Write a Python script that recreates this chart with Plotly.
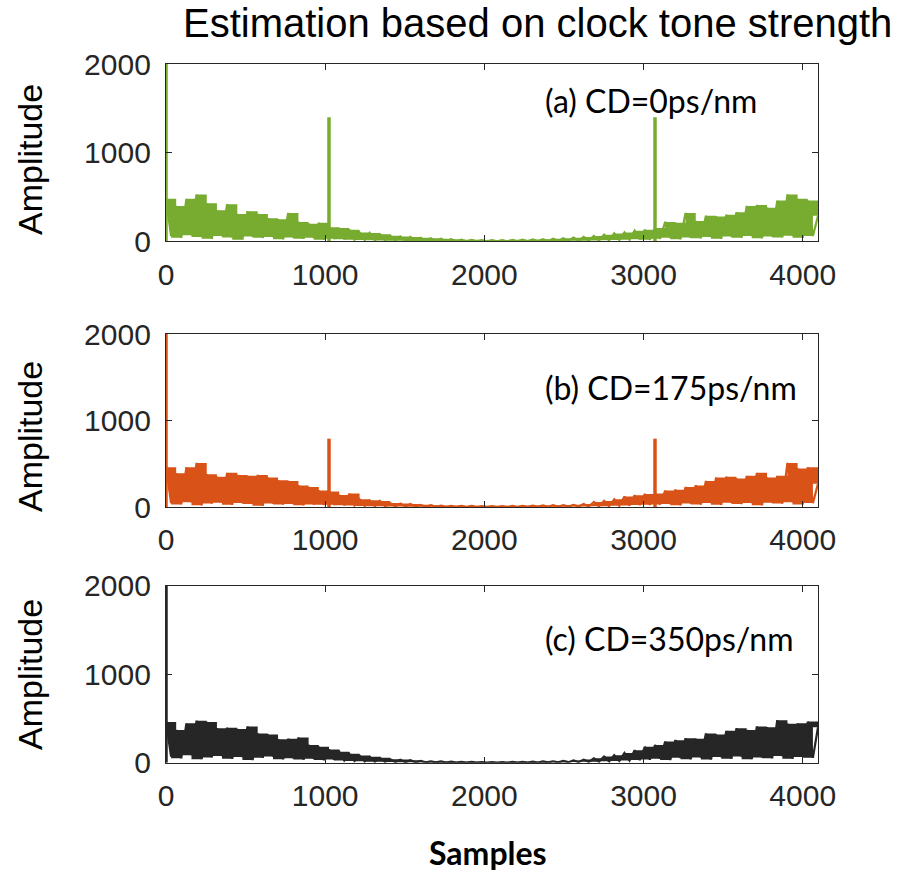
import plotly.graph_objects as go

# ---------------- data ----------------
# noise peaks at samples 0, 64, ..., 4096 and troughs at 32, 96, ..., 4064
peak_step = 64
peak_a = [480, 400, 480, 530, 430, 350, 420, 310, 340, 310, 260, 250, 320, 220, 200, 210,
          160, 150, 130, 100, 95, 80, 65, 55, 50, 40, 35, 30, 25, 20, 18, 15,
          15, 15, 18, 20, 22, 25, 30, 35, 42, 50, 60, 75, 90, 100, 120, 130,
          150, 220, 210, 320, 230, 290, 280, 300, 330, 400, 410, 380, 460, 530, 480, 460,
          290]
trough_a = [60, 40, 70, 50, 30, 60, 45, 20, 55, 40, 50, 25, 45, 30, 40, 20,
            30, 25, 20, 15, 12, 10, 8, 6, 5, 4, 3, 2, 2, 1, 1, 1,
            1, 1, 1, 2, 2, 3, 4, 5, 6, 8, 10, 12, 15, 20, 25, 20,
            30, 40, 25, 45, 35, 50, 30, 55, 40, 60, 35, 55, 45, 65, 40, 60]

peak_b = [460, 390, 460, 510, 380, 350, 395, 370, 360, 370, 340, 310, 300, 250, 230, 190,
          180, 140, 155, 90, 77, 70, 45, 40, 35, 25, 20, 15, 14, 12, 12, 10,
          10, 10, 12, 14, 16, 18, 20, 22, 25, 35, 58, 70, 90, 120, 135, 150,
          155, 190, 200, 230, 250, 300, 340, 350, 330, 360, 395, 340, 360, 510, 445, 460,
          270]
trough_b = [45, 30, 55, 20, 40, 50, 25, 45, 35, 15, 40, 30, 35, 20, 30, 25,
            25, 20, 18, 12, 10, 8, 6, 5, 4, 3, 2, 2, 1, 1, 1, 1,
            1, 1, 1, 1, 2, 2, 3, 4, 5, 6, 8, 10, 14, 18, 22, 25,
            30, 35, 20, 40, 30, 45, 25, 50, 35, 45, 20, 50, 40, 55, 30, 45]

peak_c = [460, 370, 445, 475, 460, 390, 395, 380, 410, 330, 320, 265, 270, 285, 200, 180,
          150, 125, 100, 80, 68, 55, 40, 35, 28, 20, 16, 14, 12, 10, 10, 8,
          8, 8, 10, 10, 12, 14, 16, 20, 25, 35, 50, 70, 85, 110, 140, 180,
          200, 240, 255, 275, 270, 330, 320, 360, 390, 370, 410, 400, 480, 440, 445, 465,
          400]
trough_c = [70, 50, 85, 40, 60, 75, 45, 65, 30, 55, 70, 40, 50, 35, 45, 30,
            35, 25, 20, 15, 12, 10, 8, 6, 5, 4, 3, 2, 2, 1, 1, 1,
            1, 1, 1, 2, 2, 3, 4, 6, 8, 10, 12, 16, 20, 25, 30, 35,
            45, 30, 55, 40, 60, 35, 65, 45, 70, 40, 60, 50, 75, 45, 65, 55]

# DC component and clock tones (sample position, amplitude)
tone_pos_a = [0, 1024, 3072]
tone_amp_a = [2000, 1400, 1400]
tone_pos_b = [0, 1024, 3072]
tone_amp_b = [2000, 790, 790]
tone_pos_c = [0]
tone_amp_c = [2000]

labels = ["(a) CD=0ps/nm", "(b) CD=175ps/nm", "(c) CD=350ps/nm"]
colors = ["#77AC30", "#D95319", "#262626"]
x_ticks = [0, 1000, 2000, 3000, 4000]
y_ticks = [0, 1000, 2000]
title = "Estimation based on clock tone strength"
x_title = "Samples"
y_title = "Amplitude"

# ---------------- layout geometry (page pixels) ----------------
W, H = 914, 873


def fx(px):
    return px / W


def fy(py):
    return 1 - py / H


x_dom = [fx(166), fx(818)]
y_doms = [[fy(241.4), fy(64)],
          [fy(507), fy(334)],
          [fy(762.7), fy(585.7)]]
label_y = [1583, 1387, 1398]
ylab_centers = [160, 437, 675]

fig = go.Figure()
panels = [(peak_a, trough_a, tone_pos_a, tone_amp_a),
          (peak_b, trough_b, tone_pos_b, tone_amp_b),
          (peak_c, trough_c, tone_pos_c, tone_amp_c)]

for i, (pk, tr, tpos, tamp) in enumerate(panels):
    xa = "x" if i == 0 else f"x{i + 1}"
    ya = "y" if i == 0 else f"y{i + 1}"
    col = colors[i]
    px = [k * peak_step for k in range(len(pk))]
    tx = [k * peak_step + peak_step // 2 for k in range(len(tr))]
    # filled band between troughs and peaks (blocky, like the noisy spectrum)
    fig.add_trace(go.Scatter(x=px + tx[::-1], y=pk + tr[::-1], fill="toself",
                             fillcolor=col, line=dict(width=0, shape="hv"), mode="lines",
                             xaxis=xa, yaxis=ya, showlegend=False, hoverinfo="skip"))
    # zig-zag noise line
    zx, zy = [], []
    for k in range(len(pk)):
        zx.append(px[k]); zy.append(pk[k])
        if k < len(tr):
            zx.append(tx[k]); zy.append(tr[k])
    fig.add_trace(go.Scatter(x=zx, y=zy, mode="lines", line=dict(color=col, width=2.2),
                             xaxis=xa, yaxis=ya, showlegend=False))
    # tones
    sx, sy = [], []
    for p, a in zip(tpos, tamp):
        sx += [p, p, None]; sy += [0, a, None]
    fig.add_trace(go.Scatter(x=sx, y=sy, mode="lines", line=dict(color=col, width=3.5),
                             xaxis=xa, yaxis=ya, showlegend=False))

axis_common = dict(showgrid=False, zeroline=False, showline=True, linecolor="#262626",
                   linewidth=1.3, mirror="ticks", ticks="inside", ticklen=6,
                   tickcolor="#262626", tickwidth=1,
                   tickfont=dict(family="Liberation Sans, Arial", size=30, color="#262626"))

layout = dict(width=W, height=H, margin=dict(l=0, r=0, t=0, b=0, autoexpand=False),
              plot_bgcolor="white", paper_bgcolor="white", showlegend=False)
annotations = []
for i in range(3):
    sfx = "" if i == 0 else str(i + 1)
    layout["xaxis" + sfx] = dict(axis_common, domain=x_dom, range=[0, 4096],
                                 tickvals=x_ticks, anchor="y" + sfx, ticklabelstandoff=6)
    layout["yaxis" + sfx] = dict(axis_common, domain=y_doms[i], range=[0, 2000],
                                 tickvals=y_ticks, anchor="x" + sfx, ticklabelstandoff=8)
    annotations.append(dict(text=labels[i], x=2368, y=label_y[i], xref="x" + sfx, yref="y" + sfx,
                            xanchor="left", yanchor="middle", showarrow=False,
                            font=dict(family="Lato", size=32, color="black")))
    annotations.append(dict(text=y_title, x=fx(30), y=fy(ylab_centers[i]), xref="paper",
                            yref="paper", textangle=-90, showarrow=False,
                            xanchor="center", yanchor="middle",
                            font=dict(family="Liberation Sans, Arial", size=34, color="black")))

annotations.append(dict(text=title, x=fx(537), y=1, xref="paper", yref="paper",
                        showarrow=False, xanchor="center", yanchor="top", borderpad=0,
                        font=dict(family="Liberation Sans, Arial", size=40, color="black")))
annotations.append(dict(text="<b>" + x_title + "</b>", x=fx(488), y=fy(852), xref="paper",
                        yref="paper", showarrow=False, xanchor="center", yanchor="middle",
                        font=dict(family="Lato", size=32, color="black")))
layout["annotations"] = annotations
fig.update_layout(**layout)
fig.write_html("out.html", config={"displayModeBar": False},
               post_script="document.body.style.margin='0';document.body.style.overflow='hidden';")
